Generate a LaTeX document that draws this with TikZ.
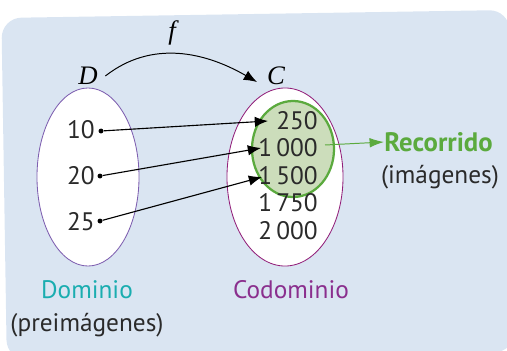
\documentclass[tikz,border=0pt]{standalone}
\usepackage{fontspec}
\setmainfont{PT Sans}
\newfontfamily\mathserif{Liberation Serif}
\usetikzlibrary{arrows.meta,shapes.geometric}
\definecolor{bgBlue}{HTML}{DAE5F2}
\definecolor{domLine}{HTML}{7E5FB0}
\definecolor{codLine}{HTML}{92207A}
\definecolor{recGreen}{HTML}{5BAA3E}
\definecolor{recFill}{HTML}{CCDDBB}
\definecolor{domText}{HTML}{1AADB0}
\definecolor{codText}{HTML}{8A2F8E}
\definecolor{numGray}{HTML}{2A2A2A}
\begin{document}
\begin{tikzpicture}[
    x=0.025cm, y=-0.025cm,
    setOval/.style={ellipse, fill=white, line width=0.6pt, minimum width=2.55cm, minimum height=4.45cm, inner sep=0pt},
    numLabel/.style={font=\fontsize{18}{21}\selectfont, text=numGray, inner sep=0pt},
    setLabel/.style={font=\fontsize{19}{22}\mathserif\itshape, inner sep=1pt},
    elemDot/.style={circle, fill=black, minimum size=3.5pt, inner sep=0pt},
    mapArrow/.style={-{Latex[length=0.33cm, width=0.26cm]}, line width=0.8pt},
    recArrow/.style={-{Latex[length=0.36cm, width=0.24cm]}, line width=0.7pt, draw=recGreen}
]
\useasboundingbox (0,0) rectangle (507,350);
% background card
\fill[bgBlue, rounded corners=0.5cm, rotate around={0.9:(255,180)}] (4,14) rectangle (512,356);

% the two sets
\node[setOval, draw=domLine] (domD) at (88,177) {};
\node[setOval, draw=codLine, minimum width=2.9cm] (codC) at (285,177) {};
\node[ellipse, draw=recGreen, fill=recFill, line width=1.6pt, minimum width=2.05cm, minimum height=2.4cm, inner sep=0pt] (recR) at (293,149) {};

% set names and f
\node[setLabel] (labD) at (88,76) {D};
\node[setLabel] (labC) at (276,76) {C};
\node[setLabel] (labF) at (172,33) {f};
\path (labD.east) ++(6,0) coordinate (fStart);
\coordinate (fEnd) at (257,82);
\draw[mapArrow, line width=0.7pt] (fStart) to[out=38, in=150] (fEnd);

% domain elements
\node[numLabel, anchor=east] (d10) at (95,130) {10};
\node[numLabel, anchor=east] (d20) at (95,176) {20};
\node[numLabel, anchor=east] (d25) at (95,222) {25};
\node[elemDot] (p10) at (101,131) {};
\node[elemDot] (p20) at (100,176) {};
\node[elemDot] (p25) at (100,221) {};

% codomain elements
\node[numLabel, anchor=east] (c250) at (318,121) {250};
\node[numLabel, anchor=east] (c1000) at (318,148) {1\,000};
\node[numLabel, anchor=east] (c1500) at (318,176) {1\,500};
\node[numLabel, anchor=east] (c1750) at (318,203) {1\,750};
\node[numLabel, anchor=east] (c2000) at (318,231) {2\,000};

% images
\coordinate (t250) at (268,121);
\coordinate (t1000) at (261,148);
\coordinate (t1500) at (262,177);
\draw[mapArrow] (p10) -- (t250);
\draw[mapArrow] (p20) -- (t1000);
\draw[mapArrow] (p25) -- (t1500);

% range
\coordinate (rStart) at (325,145);
\node[font=\fontsize{19}{22}\selectfont\bfseries, text=recGreen, anchor=west, inner sep=0pt] (recName) at (384,142) {Recorrido};
\node[numLabel] (recSub) at (440,177) {(imágenes)};
\draw[recArrow] (rStart) -- (recName.west);

% captions
\node[font=\fontsize{18}{21}\selectfont, text=domText] (domName) at (87,290) {Dominio};
\node[numLabel] (domSub) at (87,325) {(preimágenes)};
\node[font=\fontsize{18}{21}\selectfont, text=codText] (codName) at (291,290) {Codominio};
\end{tikzpicture}
\end{document}
